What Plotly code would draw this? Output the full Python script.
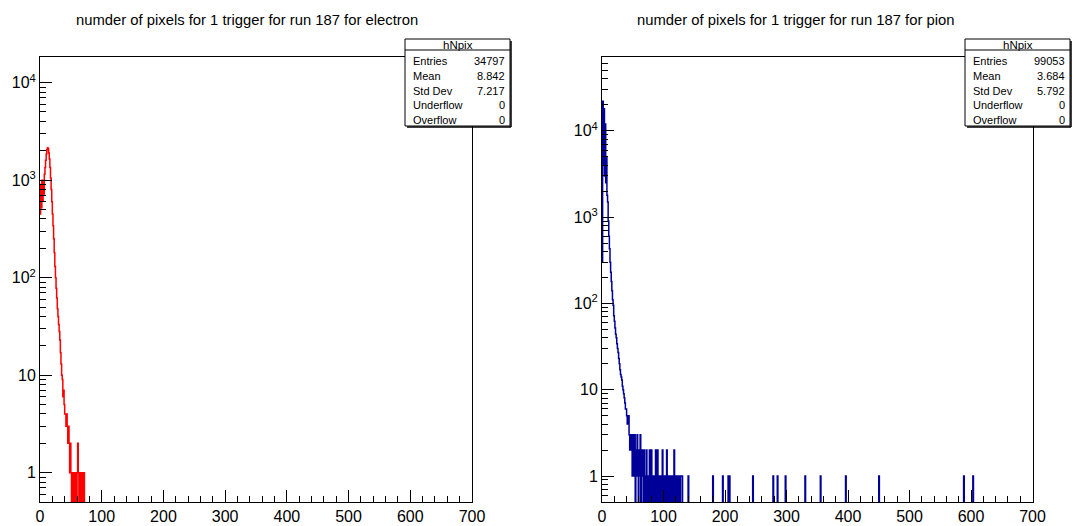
import numpy as np
import plotly.graph_objects as go

W, H = 1081, 526

def px(x):
    return x / W

def py(y):
    return 1 - y / H

# ---------------- data ----------------
NBINS = 700
X_MIN, X_MAX = 0, 700

electron_counts = [450, 900, 520, 1000, 620, 950, 720, 1150, 1350, 1600,
                   1850, 2050, 2150, 2100, 1900, 1650, 1350, 1050, 800, 600,
                   450, 340, 250, 180, 130, 100, 78, 62, 48, 40,
                   33, 28, 23, 17, 13, 10, 9, 6, 7, 5,
                   4, 4, 3, 4, 3, 2, 3, 2, 1, 2,
                   1, 0, 1, 1, 0, 1, 0, 1, 1, 0,
                   1, 2, 1, 0, 1, 0, 1, 1, 0, 1,
                   0, 1]

pion_counts = [300, 22000, 4000, 18000, 3000, 12000, 2500, 5000, 1800, 1500,
               900, 600, 430, 300, 230, 180, 140, 110, 95, 72,
               62, 52, 44, 40, 34, 30, 27, 23, 20, 17,
               15, 14, 13, 11, 10, 9, 8, 7, 6, 6,
               5, 4, 4, 5, 3, 2, 3, 2, 3, 1,
               3, 2, 1, 3, 0, 2, 1, 3, 1, 0,
               2, 1, 3, 0, 1, 2, 1, 0, 2, 1,
               0, 1, 2, 0, 1, 0, 1, 2, 0, 1,
               2, 0, 1, 1, 0, 1, 0, 2, 1, 0,
               2, 0, 1, 0, 1, 0, 0, 1, 2, 0,
               1, 0, 1, 0, 0, 2, 1, 0, 1, 0,
               0, 1, 0, 1, 0, 0, 1, 2, 0, 0,
               1, 0, 1, 0, 0, 1, 0, 0, 1, 1,
               1, 0, 0, 0, 0, 0, 0, 0, 0, 0,
               1]

pion_tail_bins = [180, 196, 205, 207, 245, 278, 285, 298, 330, 355, 396, 450, 588, 603]
pion_tail_counts = [1, 1, 1, 1, 1, 1, 1, 1, 1, 1, 1, 1, 1, 1]

stat_labels = ["Entries", "Mean", "Std Dev", "Underflow", "Overflow"]
electron_stats = ["34797", "8.842", "7.217", "0", "0"]
pion_stats = ["99053", "3.684", "5.792", "0", "0"]
stat_title = "hNpix"

titles = ["numder of pixels for 1 trigger for run 187 for electron",
          "numder of pixels for 1 trigger for run 187 for pion"]

x_tickvals = [0, 100, 200, 300, 400, 500, 600, 700]
y_tickvals = [1, 10, 100, 1000, 10000]
y_ticktext = ["1", "10", "10<sup>2</sup>", "10<sup>3</sup>", "10<sup>4</sup>"]

# ---------------- build histograms ----------------
def full_hist(counts, extra_bins=(), extra_counts=()):
    h = np.zeros(NBINS)
    h[:len(counts)] = counts
    for b, c in zip(extra_bins, extra_counts):
        h[b] = c
    return h

edges = np.linspace(X_MIN, X_MAX, NBINS + 1)
FLOOR = 0.05

def step_xy(h):
    y = np.append(h, h[-1]).astype(float)
    y = np.where(y > 0, y, FLOOR)
    return edges, y

h_el = full_hist(electron_counts)
h_pi = full_hist(pion_counts, pion_tail_bins, pion_tail_counts)

FONT = "Liberation Sans, Arial, Helvetica, sans-serif"

fig = go.Figure()
xe, ye = step_xy(h_el)
fig.add_trace(go.Scatter(x=xe, y=ye, mode="lines", line=dict(color="#ff0000", width=1.5, shape="hv"),
                         xaxis="x", yaxis="y", showlegend=False, hoverinfo="skip"))
xp, yp = step_xy(h_pi)
fig.add_trace(go.Scatter(x=xp, y=yp, mode="lines", line=dict(color="#000099", width=1.5, shape="hv"),
                         xaxis="x2", yaxis="y2", showlegend=False, hoverinfo="skip"))

PLOT_TOP, PLOT_BOT = 57, 502
LEFT_X = (40, 472)
RIGHT_X = (602, 1032.5)

def minor_log(lo, hi):
    vals = []
    for e in range(lo, hi + 1):
        for m in range(2, 10):
            vals.append(m * 10 ** e)
    return vals

xaxis_common = dict(
    range=[X_MIN, X_MAX], showline=True, linecolor="black", linewidth=1, mirror=True,
    ticks="inside", ticklen=12, tickcolor="black", tickwidth=1,
    tickmode="array", tickvals=x_tickvals, automargin=False,
    showgrid=False, zeroline=False,
    tickfont=dict(family=FONT, size=16, color="black"),
    minor=dict(ticks="inside", ticklen=6, dtick=20, tick0=0, tickcolor="black", tickwidth=1, showgrid=False),
)
yaxis_common = dict(
    type="log", showline=True, linecolor="black", linewidth=1, mirror=True,
    ticks="inside", ticklen=12, tickcolor="black", tickwidth=1,
    tickmode="array", tickvals=y_tickvals, ticktext=y_ticktext, automargin=False,
    showgrid=False, zeroline=False,
    tickfont=dict(family=FONT, size=16, color="black"),
    minor=dict(ticks="inside", ticklen=6, tickmode="array", tickvals=minor_log(-1, 4),
               tickcolor="black", tickwidth=1, showgrid=False),
)

fig.update_layout(
    width=W, height=H, margin=dict(l=0, r=0, t=0, b=0, pad=0), autosize=False,
    paper_bgcolor="white", plot_bgcolor="white",
    xaxis=dict(domain=[px(LEFT_X[0]), px(LEFT_X[1])], anchor="y", **xaxis_common),
    yaxis=dict(domain=[py(PLOT_BOT), py(PLOT_TOP)], anchor="x", range=[np.log10(0.5), 4.263], **yaxis_common),
    xaxis2=dict(domain=[px(RIGHT_X[0]), px(RIGHT_X[1])], anchor="y2", **xaxis_common),
    yaxis2=dict(domain=[py(PLOT_BOT), py(PLOT_TOP)], anchor="x2", range=[np.log10(0.5), 4.856], **yaxis_common),
)

annotations = []
shapes = []

# titles
for cx, t in zip([247, 795], titles):
    annotations.append(dict(x=px(cx), y=py(20), xref="paper", yref="paper", text=t, showarrow=False,
                            xanchor="center", yanchor="middle", font=dict(family=FONT, size=14.8, color="black")))

# stat boxes
def stat_box(x0, x1, values):
    y0, y1, ysep = 39, 126, 50
    shapes.append(dict(type="rect", xref="paper", yref="paper", x0=px(x0), x1=px(x1), y0=py(y1), y1=py(y0),
                       line=dict(color="black", width=1), fillcolor="white", layer="above"))
    # shadow
    shapes.append(dict(type="line", xref="paper", yref="paper", x0=px(x1 + 1), x1=px(x1 + 1), y0=py(y1 + 1), y1=py(y0 + 2),
                       line=dict(color="black", width=1.5), layer="above"))
    shapes.append(dict(type="line", xref="paper", yref="paper", x0=px(x0 + 2), x1=px(x1 + 1), y0=py(y1 + 1), y1=py(y1 + 1),
                       line=dict(color="black", width=1.5), layer="above"))
    shapes.append(dict(type="line", xref="paper", yref="paper", x0=px(x0), x1=px(x1), y0=py(ysep), y1=py(ysep),
                       line=dict(color="black", width=1), layer="above"))
    annotations.append(dict(x=px((x0 + x1) / 2), y=py(45), xref="paper", yref="paper", text=stat_title,
                            showarrow=False, xanchor="center", yanchor="middle",
                            font=dict(family=FONT, size=11.5, color="black")))
    for i, (lab, val) in enumerate(zip(stat_labels, values)):
        yy = 61 + i * 14.8
        annotations.append(dict(x=px(x0 + 6), y=py(yy), xref="paper", yref="paper", text=lab, showarrow=False,
                                xanchor="left", yanchor="middle", font=dict(family=FONT, size=11, color="black")))
        annotations.append(dict(x=px(x1 - 3), y=py(yy), xref="paper", yref="paper", text=val, showarrow=False,
                                xanchor="right", yanchor="middle", font=dict(family=FONT, size=11, color="black")))

stat_box(405, 510, electron_stats)
stat_box(965, 1070, pion_stats)

fig.update_layout(annotations=annotations, shapes=shapes)
fig.write_html("out.html", config={"responsive": False})
